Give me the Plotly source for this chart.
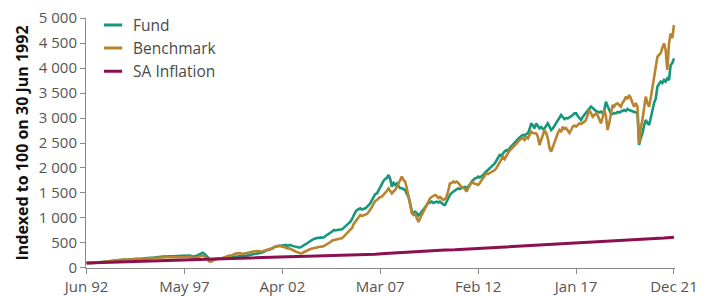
import pandas as pd
import plotly.graph_objects as go

# Monthly index values, Jun 1992 .. Dec 2021 (355 months)
fund = [
    100, 97, 99, 103, 101, 106, 110,                                   # 1992 Jun-Dec
    114, 118, 116, 121, 125, 130, 128, 134, 140, 146, 152, 158,        # 1993
    165, 162, 170, 173, 168, 164, 170, 176, 180, 178, 182, 186,        # 1994
    183, 180, 185, 188, 192, 193, 196, 199, 203, 206, 210, 214,        # 1995
    222, 227, 224, 228, 232, 230, 228, 233, 236, 234, 238, 241,        # 1996
    240, 244, 246, 242, 245, 248, 252, 247, 238, 227, 232, 240,        # 1997
    255, 272, 296, 305, 285, 250, 215, 180, 173, 182, 188, 186,        # 1998
    190, 185, 188, 192, 193, 198, 204, 210, 208, 218, 226, 232,        # 1999
    238, 236, 240, 232, 238, 246, 252, 258, 262, 270, 280, 276,        # 2000
    285, 292, 300, 312, 330, 350, 360, 365, 372, 390, 415, 430,        # 2001
    436, 445, 440, 455, 450, 462, 448, 455, 460, 442, 430, 420,        # 2002
    418, 410, 413, 430, 455, 470, 495, 520, 545, 565, 580, 590,        # 2003
    605, 600, 612, 605, 613, 640, 660, 680, 700, 730, 760, 750,        # 2004
    760, 773, 770, 773, 800, 840, 870, 900, 927, 980, 1060, 1120,      # 2005
    1160, 1175, 1193, 1170, 1180, 1193, 1220, 1260, 1293, 1360, 1420, 1480,  # 2006
    1493, 1560, 1620, 1693, 1740, 1780, 1800, 1860, 1780, 1627, 1700, 1660,  # 2007
    1693, 1640, 1600, 1593, 1580, 1560, 1480, 1427, 1300, 1130, 1100, 1127,  # 2008
    1093, 1050, 1080, 1120, 1160, 1200, 1260, 1300, 1310, 1327, 1300, 1310,  # 2009
    1327, 1310, 1327, 1300, 1270, 1260, 1330, 1400, 1460, 1500, 1530, 1560,  # 2010
    1575, 1593, 1580, 1600, 1610, 1620, 1600, 1627, 1660, 1720, 1760, 1793,  # 2011
    1800, 1827, 1810, 1827, 1860, 1900, 1930, 1960, 1993, 2030, 2060, 2093,  # 2012
    2150, 2200, 2260, 2250, 2300, 2330, 2360, 2340, 2400, 2440, 2460, 2500,  # 2013
    2540, 2580, 2620, 2640, 2660, 2650, 2680, 2693, 2780, 2893, 2850, 2793,  # 2014
    2893, 2850, 2793, 2820, 2780, 2793, 2850, 2893, 2830, 2760, 2793, 2850,  # 2015
    2900, 2960, 3000, 3060, 3020, 2980, 3000, 2993, 3010, 3027, 3060, 3093,  # 2016
    3093, 3040, 2990, 2960, 3020, 3060, 3093, 3140, 3180, 3227, 3200, 3160,  # 2017
    3140, 3127, 3110, 3127, 3093, 3150, 3327, 3240, 3150, 3093, 3080, 3100,  # 2018
    3093, 3120, 3110, 3127, 3150, 3160, 3140, 3180, 3160, 3150, 3140, 3127,  # 2019
    3110, 3093, 2460, 2600, 2693, 2850, 2960, 2900, 2860, 3000, 3160, 3300,  # 2020
    3393, 3627, 3680, 3727, 3700, 3760, 3727, 3793, 3760, 4060, 4100, 4193,  # 2021
]

benchmark = [
    100, 95, 97, 100, 98, 102, 106,                                    # 1992 Jun-Dec
    110, 113, 111, 116, 120, 125, 123, 128, 134, 140, 146, 152,        # 1993
    160, 158, 166, 170, 164, 160, 165, 170, 174, 172, 176, 180,        # 1994
    177, 175, 180, 183, 186, 188, 190, 192, 195, 198, 201, 205,        # 1995
    212, 215, 212, 215, 218, 216, 214, 218, 220, 217, 215, 214,        # 1996
    213, 216, 218, 214, 216, 220, 224, 218, 208, 193, 200, 210,        # 1997
    222, 235, 245, 250, 238, 210, 170, 130, 127, 150, 170, 175,        # 1998
    180, 178, 185, 200, 215, 227, 240, 250, 245, 262, 280, 290,        # 1999
    296, 300, 293, 280, 290, 300, 310, 318, 322, 327, 335, 330,        # 2000
    335, 340, 330, 335, 345, 350, 360, 366, 372, 395, 420, 435,        # 2001
    440, 445, 440, 430, 420, 410, 393, 395, 380, 360, 345, 330,        # 2002
    318, 305, 293, 300, 320, 335, 350, 365, 380, 385, 393, 405,        # 2003
    415, 420, 430, 425, 440, 460, 480, 490, 520, 550, 560, 575,        # 2004
    585, 593, 590, 593, 620, 660, 700, 730, 760, 800, 880, 920,        # 2005
    960, 1000, 1060, 1040, 1050, 1060, 1080, 1120, 1160, 1220, 1290, 1340,  # 2006
    1360, 1390, 1420, 1427, 1460, 1500, 1540, 1593, 1550, 1493, 1530, 1560,  # 2007
    1620, 1700, 1750, 1827, 1760, 1727, 1600, 1427, 1250, 1100, 1060, 1080,  # 2008
    1000, 920, 990, 1060, 1120, 1200, 1280, 1330, 1393, 1420, 1440, 1460,    # 2009
    1440, 1400, 1420, 1380, 1360, 1380, 1427, 1550, 1693, 1700, 1727, 1710,  # 2010
    1727, 1700, 1660, 1620, 1600, 1580, 1527, 1600, 1680, 1727, 1700, 1690,  # 2011
    1680, 1660, 1700, 1760, 1800, 1850, 1893, 1880, 1900, 1920, 1927, 1960,  # 2012
    2000, 2060, 2100, 2150, 2227, 2180, 2250, 2300, 2350, 2393, 2420, 2450,  # 2013
    2480, 2527, 2560, 2590, 2600, 2560, 2620, 2593, 2650, 2727, 2700, 2693,  # 2014
    2693, 2620, 2460, 2560, 2680, 2760, 2700, 2600, 2400, 2327, 2420, 2527,  # 2015
    2600, 2700, 2760, 2720, 2827, 2780, 2800, 2760, 2700, 2760, 2827, 2850,  # 2016
    2827, 2860, 2893, 2880, 2900, 2927, 2960, 3050, 3160, 3100, 3027, 3060,  # 2017
    3093, 3050, 2980, 2893, 3000, 3160, 3050, 2760, 2900, 3100, 3260, 3230,  # 2018
    3280, 3293, 3250, 3227, 3300, 3350, 3427, 3380, 3460, 3400, 3300, 3227,  # 2019
    3300, 3227, 2493, 2800, 2960, 3200, 3427, 3300, 3227, 3400, 3627, 3800,  # 2020
    3993, 4227, 4260, 4293, 4400, 4493, 4360, 3960, 4493, 4693, 4600, 4860,  # 2021
]

# SA inflation index, read every six months (Jun / Dec)
inflation_dates = ["1992-06-01", "1992-12-01"] + [
    f"{y}-{mm}-01" for y in range(1993, 2022) for mm in ("06", "12")
]
inflation = [
    100, 106,
    112, 117, 122, 128, 134, 139, 144, 150, 157, 162,
    167, 175, 178, 182, 188, 194, 201, 207, 220, 232,
    238, 239, 243, 248, 255, 260, 268, 277, 290, 302,
    325, 338, 346, 352, 360, 366, 377, 388, 398, 408,
    421, 430, 445, 452, 463, 472, 490, 500, 512, 520,
    533, 543, 554, 562, 566, 575, 598, 615,
]

months = pd.date_range("1992-06-01", periods=len(fund), freq="MS")

x_tick_dates = ["1992-06-01", "1997-05-01", "2002-04-01", "2007-03-01",
                "2012-02-01", "2017-01-01", "2021-12-01"]
x_tick_labels = ["Jun 92", "May 97", "Apr 02", "Mar 07", "Feb 12", "Jan 17", "Dec 21"]
y_tick_vals = [0, 500, 1000, 1500, 2000, 2500, 3000, 3500, 4000, 4500, 5000]
y_tick_labels = ["0", "500", "1 000", "1 500", "2 000", "2 500", "3 000",
                 "3 500", "4 000", "4 500", "5 000"]

series_names = ["Fund", "Benchmark", "SA Inflation"]
colors = ["#15977b", "#b8842f", "#8c0f4f"]

fig = go.Figure()
fig.add_trace(go.Scatter(x=months, y=fund, mode="lines", name=series_names[0],
                         line=dict(color=colors[0], width=2.6), showlegend=False))
fig.add_trace(go.Scatter(x=months, y=benchmark, mode="lines", name=series_names[1],
                         line=dict(color=colors[1], width=2.6), showlegend=False))
fig.add_trace(go.Scatter(x=inflation_dates, y=inflation, mode="lines", name=series_names[2],
                         line=dict(color=colors[2], width=3), showlegend=False))

# legend entries with short line symbols
for name, c in zip(series_names, colors):
    fig.add_trace(go.Scatter(x=[None], y=[None], mode="markers", name=name,
                             marker=dict(symbol="line-ew", size=13,
                                         line=dict(color=c, width=3)),
                             showlegend=True))

tick_font = dict(family="Open Sans", size=15, color="#555555")

fig.update_layout(
    width=705, height=296,
    margin=dict(l=86, r=30, t=0, b=28),
    paper_bgcolor="white", plot_bgcolor="white",
    legend=dict(x=0.012, y=0.969, xanchor="left", yanchor="top",
                bgcolor="rgba(0,0,0,0)", font=dict(family="Open Sans", size=15.5, color="#4a4a4a"),
                itemwidth=30, tracegroupgap=0),
)
fig.update_xaxes(
    type="date", range=["1992-05-22", "2021-12-20"],
    tickvals=x_tick_dates, ticktext=x_tick_labels, tickfont=tick_font,
    showline=True, linecolor="#8a8a8a", linewidth=1,
    ticks="outside", ticklen=5, tickcolor="#8a8a8a",
    showgrid=False, zeroline=False, automargin=False,
)
fig.update_yaxes(
    range=[0, 5000], domain=[0, 0.9328],
    tickvals=y_tick_vals, ticktext=y_tick_labels, tickfont=tick_font,
    showline=True, linecolor="#8a8a8a", linewidth=1,
    ticks="outside", ticklen=5, tickcolor="#8a8a8a",
    showgrid=False, zeroline=False, automargin=False,
    title=dict(text="<b>Indexed to 100 on 30 Jun 1992</b>",
               font=dict(family="Open Sans", size=16, color="#111111"), standoff=6),
)

# remove the browser's default 8px page margin so the figure fills the window
fig.write_html("out.html", config={"displayModeBar": False},
               post_script="document.body.style.margin='0px';document.body.style.overflow='hidden';")
